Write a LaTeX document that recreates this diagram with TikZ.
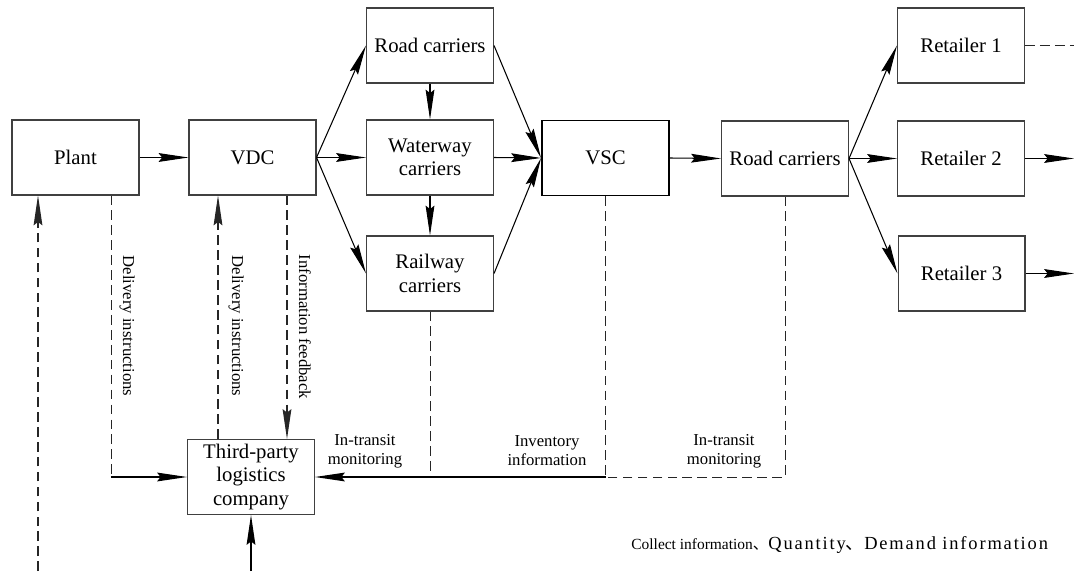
\documentclass[tikz,border=0pt]{standalone}
\usepackage{fontspec}
\setmainfont{Liberation Serif}
\newfontfamily\cjk{Noto Sans CJK SC}
\newfontfamily\spaced[LetterSpace=10]{Liberation Serif}
\usetikzlibrary{arrows.meta}

\begin{document}
\begin{tikzpicture}[x=0.02cm, y=-0.02cm,
    box/.style={draw=black!75, line width=0.6pt, minimum width=2.54cm, minimum height=1.5cm,
                align=center, inner sep=1pt, font=\rmfamily\fontsize{11.8}{13.4}\selectfont},
    arr/.style={-{Stealth[length=17pt,width=5pt,inset=2pt]}, line width=0.6pt},
    dashline/.style={dash pattern=on 5.5pt off 3pt, line width=0.55pt, draw=black!85},
    lbl/.style={font=\rmfamily\fontsize{9.5}{10.8}\selectfont, align=center, inner sep=0pt}]
    \useasboundingbox (0,0) rectangle (1074,571);

    % Boxes
    \node[box] (plant) at (75.5,157.5) {Plant};
    \node[box] (vdc) at (252.5,157.5) {VDC};
    \node[box] (road) at (430,45.5) {Road carriers};
    \node[box] (water) at (430,157.5) {Waterway\\carriers};
    \node[box] (rail) at (430,273.5) {Railway\\carriers};
    \node[box, draw=black, line width=1.1pt] (vsc) at (605.5,158) {VSC};
    \node[box] (road2) at (785,158.5) {Road carriers};
    \node[box] (ret1) at (961,45.5) {Retailer 1};
    \node[box] (ret2) at (961,158.5) {Retailer 2};
    \node[box] (ret3) at (961.5,273.5) {Retailer 3};
    \node[box] (tpl) at (251,477) {Third-party\\logistics\\company};

    % Free ends at the border
    \coordinate (e1) at (1074,45.5);
    \coordinate (e2) at (1074,158.5);
    \coordinate (e3) at (1074,273.5);
    \coordinate (b1) at (38,571);
    \coordinate (b2) at (251,571);

    % Goods flow
    \draw[arr] (plant.east) -- (vdc.west);
    \foreach \t in {road, water, rail}{
        \draw[arr] (vdc.east) -- (\t.west);
        \draw[arr] (\t.east) -- (vsc.west);
    }
    \draw[arr] (road.south) -- (water.north);
    \draw[arr] (water.south) -- (rail.north);
    \draw[arr] (vsc.east) -- (road2.west);
    \foreach \t in {ret1, ret2, ret3}{
        \draw[arr] (road2.east) -- (\t.west);
    }
    \draw[dashline] (ret1.east) -- (e1);
    \draw[arr] (ret2.east) -- (e2);
    \draw[arr] (ret3.east) -- (e3);

    % Information flow
    \draw[dashline, arr] (b1) -- (b1 |- plant.south);
    \draw[dashline] ([xshift=0.71cm]plant.south) -- ([xshift=0.71cm]plant.south |- tpl.west);
    \draw[arr] ([xshift=0.71cm]plant.south |- tpl.west) -- (tpl.west);
    \draw[dashline, arr] ([xshift=-0.66cm]tpl.north) -- ([xshift=-0.66cm]tpl.north |- vdc.south);
    \draw[dashline, arr] ([xshift=0.69cm]vdc.south) -- ([xshift=0.69cm]vdc.south |- tpl.north);
    \draw[arr] (b2) -- (tpl.south);
    \draw[dashline] (rail.south) -- (rail.south |- tpl.east);
    \draw[dashline] (vsc.south) -- (vsc.south |- tpl.east);
    \draw[dashline] (road2.south) -- (road2.south |- tpl.east) -- (vsc.south |- tpl.east);
    \draw[arr] (vsc.south |- tpl.east) -- (tpl.east);

    % Labels
    \node[lbl, rotate=-90] (d1) at (127,326) {Delivery instructions};
    \node[lbl, rotate=-90] (d2) at (236,326) {Delivery instructions};
    \node[lbl, rotate=-90] (fb) at (305,327) {Information feedback};
    \node[lbl] (m1) at (365,451) {In-transit\\monitoring};
    \node[lbl] (inv) at (547,451) {Inventory\\information};
    \node[lbl] (m2) at (724,451) {In-transit\\monitoring};
    \node[anchor=west, inner sep=0pt] (note) at (631,545)
        {\fontsize{8.8}{10}\selectfont Collect information{\cjk 、}%
         \fontsize{10.5}{12}\selectfont\spaced Quantity{\cjk 、}Demand information};
\end{tikzpicture}
\end{document}
